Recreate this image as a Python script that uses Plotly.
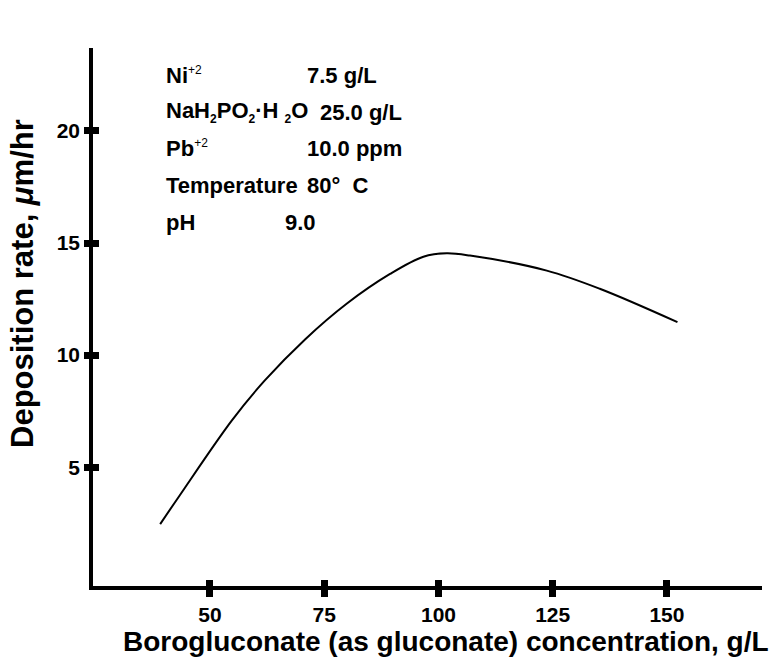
import plotly.graph_objects as go

# Borogluconate concentration (g/L) vs. deposition rate (um/hr)
concentration = [39.1, 43.4, 54.8, 62.0, 70.8, 79.9, 89.4, 96.7, 101.8, 106.9, 123.7, 135.3, 152.3]
deposition_rate = [2.46, 3.75, 7.09, 8.87, 10.70, 12.29, 13.62, 14.39, 14.54, 14.44, 13.77, 12.96, 11.47]

x_ticks = [50, 75, 100, 125, 150]
y_ticks = [5, 10, 15, 20]
x_range = [24.4, 170.8]
y_range = [-0.3, 23.7]

# Bath conditions listed in the upper left
SUB = "<sub><span style='font-size:12px'>2</span></sub>"
SUP = "<sup><span style='font-size:12px;font-weight:normal'>+2</span></sup>"
cond_labels = ["Ni" + SUP, "NaH" + SUB + "PO" + SUB + "·H " + SUB + "O",
               "Pb" + SUP, "Temperature", "pH"]
cond_values = ["7.5 g/L", "25.0 g/L", "10.0 ppm", "80°  C", "9.0"]

FONT = "Liberation Sans, Arial, Helvetica, sans-serif"
W, H = 774, 661
ML, MR, MT, MB = 93, 12, 48, 75
PW, PH = W - ML - MR, H - MT - MB


def px_x(px):
    return (px - ML) / PW


def px_y(py):
    return (H - MB - py) / PH


fig = go.Figure()
fig.add_trace(go.Scatter(
    x=concentration, y=deposition_rate, mode="lines",
    line=dict(color="black", width=2, shape="spline", smoothing=1.0),
    showlegend=False, hoverinfo="skip",
))
# companion trace on the overlay axes that carry the inner half of each tick
fig.add_trace(go.Scatter(
    x=concentration, y=deposition_rate, mode="lines", xaxis="x2", yaxis="y2",
    line=dict(color="rgba(0,0,0,0)"), showlegend=False, hoverinfo="skip",
))

axis_common = dict(showgrid=False, zeroline=False, showline=True,
                   linecolor="black", linewidth=3.5, tickcolor="black")
tick_font = dict(size=21, family=FONT, weight="bold")

fig.update_layout(
    width=W, height=H,
    margin=dict(l=ML, r=MR, t=MT, b=MB),
    plot_bgcolor="white", paper_bgcolor="white",
    font=dict(family=FONT, color="black"),
    xaxis=dict(range=x_range, tickvals=x_ticks, ticks="outside", ticklen=7,
               tickwidth=7, tickfont=tick_font, **axis_common),
    yaxis=dict(range=y_range, tickvals=y_ticks, ticks="outside", ticklen=5,
               tickwidth=7, tickfont=tick_font, **axis_common),
    xaxis2=dict(range=x_range, tickvals=x_ticks, ticks="inside", ticklen=6,
                tickwidth=7, showticklabels=False, overlaying="x", anchor="y2",
                side="bottom", **axis_common),
    yaxis2=dict(range=y_range, tickvals=y_ticks, ticks="inside", ticklen=6,
                tickwidth=7, showticklabels=False, overlaying="y", anchor="x2",
                side="left", **axis_common),
)

annotations = [
    dict(text="Borogluconate (as gluconate) concentration, g/L",
         x=px_x(446), y=px_y(641), xref="paper", yref="paper",
         xanchor="center", yanchor="middle", showarrow=False,
         font=dict(size=28, family=FONT, weight="bold")),
    dict(text="Deposition rate, <i>μ</i>m/hr",
         x=px_x(22), y=px_y(284), xref="paper", yref="paper",
         xanchor="center", yanchor="middle", textangle=-90, showarrow=False,
         font=dict(size=31, family=FONT, weight="bold")),
]

row_centers = [75, 112, 148, 185, 222]
value_lefts = [305, 318, 305, 305, 283]
for lab, val, yc, xv in zip(cond_labels, cond_values, row_centers, value_lefts):
    annotations.append(dict(text=lab, x=px_x(164), y=px_y(yc), xref="paper",
                            yref="paper", xanchor="left", yanchor="middle",
                            showarrow=False,
                            font=dict(size=22, family=FONT, weight="bold")))
    annotations.append(dict(text=val, x=px_x(xv), y=px_y(yc), xref="paper",
                            yref="paper", xanchor="left", yanchor="middle",
                            showarrow=False,
                            font=dict(size=22, family=FONT, weight="bold")))

fig.update_layout(annotations=annotations)
fig.write_html("out.html")
